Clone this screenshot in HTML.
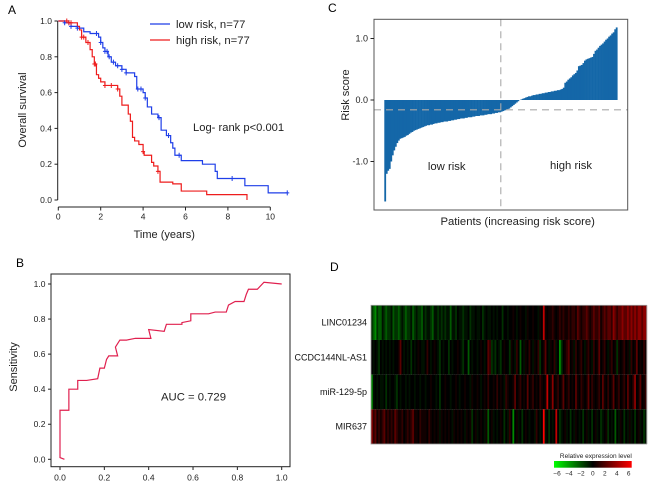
<!DOCTYPE html>
<html><head><meta charset="utf-8"><style>
html,body{margin:0;padding:0;background:#fff;width:650px;height:487px;overflow:hidden}
svg{display:block;font-family:"Liberation Sans",Arial,sans-serif}
</style></head><body>
<svg id="fig" width="650" height="487" viewBox="0 0 650 487" xmlns="http://www.w3.org/2000/svg">
<defs><linearGradient id="cb" x1="0" x2="1" y1="0" y2="0"><stop offset="0" stop-color="#00ff00"/><stop offset="0.5" stop-color="#000000"/><stop offset="1" stop-color="#ff0000"/></linearGradient></defs>
</svg>
<script>
// ---------- Panel A data (Kaplan-Meier) ----------
const kmTicksX = [0,2,4,6,8,10];
const kmTicksY = [0,0.2,0.4,0.6,0.8,1.0];
const lowTimes = [0,0.3,0.6,0.9,1.2,1.5,1.9,2.0,2.1,2.2,2.35,2.5,2.7,3.0,3.2,3.6,3.7,4.0,4.1,4.2,4.4,4.7,4.85,5.1,5.3,5.4,5.5,5.8,6.8,7.4,7.5,8.8,9.9,10.8];
const lowSurv  = [1,0.99,0.97,0.96,0.94,0.93,0.91,0.88,0.85,0.83,0.80,0.77,0.75,0.73,0.71,0.69,0.62,0.60,0.57,0.52,0.48,0.46,0.39,0.36,0.32,0.29,0.25,0.22,0.20,0.16,0.12,0.08,0.04,0.04];
const highTimes = [0,0.5,0.9,1.0,1.1,1.3,1.5,1.6,1.7,1.8,1.9,2.0,2.2,2.8,2.9,3.0,3.3,3.4,3.5,3.6,3.8,4.0,4.05,4.4,4.5,4.7,4.8,5.4,5.8,7.0,8.9];
const highSurv  = [1,0.99,0.97,0.95,0.91,0.88,0.84,0.80,0.76,0.70,0.68,0.66,0.64,0.62,0.58,0.53,0.48,0.44,0.35,0.33,0.31,0.27,0.25,0.21,0.19,0.16,0.10,0.09,0.05,0.03,0.0];
const lowCensor = [0.3,0.5,0.6,0.9,1.8,2.0,2.2,2.3,2.4,2.6,2.8,3.0,3.2,3.75,3.9,4.1,4.75,5.2,5.7,8.2,10.8];
const highCensor = [0.4,0.5,0.6,1.1,1.2,1.4,1.7,1.75,2.2,2.5,2.8,4.0,4.7];
// ---------- Panel B data (ROC) ----------
const rocTicks = [0,0.2,0.4,0.6,0.8,1.0];
const rocFPR = [0.02,0,0,0.04,0.04,0.08,0.08,0.12,0.17,0.18,0.2,0.21,0.22,0.26,0.25,0.27,0.3,0.34,0.41,0.40,0.47,0.48,0.55,0.55,0.59,0.59,0.67,0.7,0.75,0.76,0.79,0.83,0.84,0.85,0.89,0.92,1.0];
const rocTPR = [0,0.01,0.28,0.28,0.40,0.40,0.45,0.45,0.46,0.52,0.52,0.57,0.59,0.59,0.64,0.68,0.68,0.69,0.69,0.74,0.73,0.77,0.77,0.78,0.79,0.83,0.83,0.84,0.84,0.88,0.90,0.90,0.94,0.97,0.97,1.01,1.0];
// ---------- Panel C data (risk scores) ----------
const riskTicks = [-1.0,0.0,1.0];
const riskCutoff = -0.16;
const riskScores = [-1.65,-1.20,-1.15,-1.12,-1.00,-0.90,-0.82,-0.76,-0.70,-0.66,
-0.63,-0.62,-0.61,-0.60,-0.58,-0.57,-0.55,-0.53,-0.52,-0.50,
-0.49,-0.48,-0.47,-0.46,-0.45,-0.44,-0.43,-0.42,-0.41,-0.41,
-0.40,-0.40,-0.39,-0.38,-0.38,-0.37,-0.37,-0.36,-0.36,-0.35,
-0.35,-0.35,-0.34,-0.34,-0.33,-0.33,-0.32,-0.32,-0.31,-0.31,
-0.30,-0.30,-0.30,-0.29,-0.29,-0.28,-0.28,-0.28,-0.27,-0.27,
-0.26,-0.26,-0.26,-0.25,-0.25,-0.25,-0.24,-0.24,-0.23,-0.23,
-0.23,-0.22,-0.22,-0.21,-0.21,-0.20,-0.20,-0.19,-0.18,-0.17,
-0.16,-0.15,-0.14,-0.12,-0.10,-0.08,-0.06,-0.04,-0.02,0.00,
0.01,0.02,0.03,0.04,0.05,0.06,0.06,0.07,0.08,0.08,
0.09,0.09,0.10,0.10,0.11,0.11,0.12,0.12,0.13,0.13,
0.14,0.14,0.15,0.15,0.16,0.16,0.17,0.18,0.20,0.28,
0.30,0.33,0.35,0.37,0.40,0.42,0.44,0.48,0.55,0.56,
0.57,0.60,0.64,0.66,0.67,0.68,0.69,0.70,0.75,0.80,
0.82,0.85,0.88,0.90,0.92,0.95,0.98,1.00,1.03,1.05,
1.08,1.10,1.15,1.18];
// ---------- Panel D data (heatmap) ----------
const genes = ["LINC01234","CCDC144NL-AS1","miR-129-5p","MIR637"];
const colorTicks = [-6,-4,-2,0,2,4,6];
const rowLINC = [-2,-3,-4,-2,-3,-3,-1,-2,-3,-2,-2,-1,-3,-2,-2,-3,-2,-1,-2,-3,-2,-2,-1,-3,-2,-1,-2,-2,-3,-1,-2,-1,-1,-2,-3,-1,-1,-2,-1,-2,-1,-2,-1,-1,-3,-1,-1,-2,0,-1,-1,-2,-1,-1,0,-2,-1,-1,0,-1,-1,0,-2,-1,0,-1,-1,0,-1,0,-1,0,0,-2,0,0,-1,0,0,1,0,-1,0,1,0,0,-1,1,0,0,1,0,0,-1,1,0,5,1,0,1,1,2,1,0,1,2,1,2,1,1,2,1,2,2,1,3,2,1,2,2,3,2,1,2,3,2,2,3,1,2,3,2,3,3,2,4,3,2,3,3,4,3,3,4,3,4,3,4,3,4,4,3,4,4];
const rowCCDC = [0,-1,0,-1,-2,0,-1,0,-1,0,-1,0,-1,0,0,1,3,0,-1,0,-1,0,-2,0,-1,0,1,0,-1,-1,0,2,0,-1,0,1,0,-1,-2,0,-1,0,0,-2,0,-1,0,0,1,0,-1,-2,0,0,-3,0,-1,0,0,-1,0,1,0,-1,0,3,2,-2,-1,-2,0,-1,-2,0,1,0,0,-2,1,0,-1,2,0,-3,0,-1,1,0,2,0,-1,1,0,2,-2,0,1,3,0,-1,1,0,2,-1,0,-4,-2,0,1,2,3,0,1,-1,2,0,1,2,0,-1,1,2,0,-1,2,0,1,3,0,1,2,0,-1,1,2,0,1,-2,1,0,1,2,0,1,-1,2,0,1,3,0,1,0,2,1];
const rowMIR129 = [-4,-1,0,-1,0,-1,-1,0,-2,0,-1,0,0,-1,-2,0,-1,0,0,-1,0,-1,0,0,-1,0,0,-1,0,0,-1,0,0,1,0,0,-1,0,-2,0,0,1,0,0,-1,0,0,1,0,-1,0,0,1,0,0,-1,1,0,0,1,0,-1,0,1,0,2,0,0,1,0,2,0,1,0,-1,2,1,0,0,1,3,0,1,2,0,1,0,3,0,1,2,0,1,0,2,1,0,1,5,0,1,4,0,1,2,0,1,3,0,1,2,0,1,0,3,1,0,2,1,0,1,3,0,2,1,0,1,2,0,3,1,0,2,0,1,3,0,1,2,0,1,2,0,3,1,0,2,4,0,1,3,0,1,2];
const rowMIR637 = [4,2,3,1,2,1,2,3,1,2,1,2,1,3,2,1,1,2,0,1,2,1,2,3,1,1,0,2,1,1,1,0,2,1,0,1,0,1,-1,1,0,1,0,1,0,-1,1,0,1,0,1,0,-1,1,0,1,-2,0,1,-1,0,1,0,-1,1,-3,0,1,-1,0,-1,0,1,0,-2,0,-1,2,0,-4,0,1,-1,0,-2,0,1,0,-1,0,0,-1,2,0,-1,0,6,-1,0,-2,0,-1,0,5,0,-2,-1,0,1,-1,0,-2,0,-1,1,0,-1,0,-2,0,1,-1,0,-2,0,1,-1,0,-2,-1,0,1,-2,0,-1,0,-3,0,-1,1,0,-2,0,-1,1,-1,0,-2,0,1,-1,0,-2,-1];

const NS="http://www.w3.org/2000/svg";
const svg=document.getElementById('fig');
function el(tag,attrs,parent,text){const e=document.createElementNS(NS,tag);for(const k in attrs)e.setAttribute(k,attrs[k]);if(text!==undefined)e.textContent=text;(parent||svg).appendChild(e);return e;}
function fmt(v){return v.toFixed(1);}

// ===== Panel A =====
try{
const gA=el('g',{});


const ax=t=>58.3+t*21.2, ay=s=>200-s*179;
let t=el('text',{x:8,y:14,'font-size':12},gA,'A');

let l=el('line',{x1:57.7,y1:ay(1),x2:57.7,y2:ay(0),stroke:'#222','stroke-width':1},gA);

l=el('line',{x1:ax(0),y1:207,x2:ax(10),y2:207,stroke:'#222','stroke-width':1},gA);

kmTicksY.forEach(v=>{el('line',{x1:54.5,x2:57.7,y1:ay(v),y2:ay(v),stroke:'#222'},gA);
 const tx=el('text',{x:52,y:ay(v)+3,'font-size':8.5,'text-anchor':'end',fill:'#222'},gA,fmt(v));
 });
kmTicksX.forEach(v=>{el('line',{x1:ax(v),x2:ax(v),y1:207,y2:210.5,stroke:'#222'},gA);
 const tx=el('text',{x:ax(v),y:219.5,'font-size':8.5,'text-anchor':'middle',fill:'#222'},gA,String(v));
 });
t=el('text',{x:ax(5),y:238,'font-size':11,'text-anchor':'middle',fill:'#222'},gA,'Time (years)');

t=el('text',{x:0,y:0,'font-size':11,'text-anchor':'middle',fill:'#222',transform:'translate(26,110) rotate(-90)'},gA,'Overall survival');

function stepPath(ts,ss){let d='M'+ax(ts[0])+','+ay(ss[0]);for(let i=1;i<ts.length;i++){d+=' H'+ax(ts[i])+' V'+ay(ss[i]);}return d;}
function survAt(ts,ss,x){let s=ss[0];for(let i=0;i<ts.length;i++){if(ts[i]<=x)s=ss[i];}return s;}
let p=el('path',{d:stepPath(lowTimes,lowSurv),fill:'none',stroke:'#1f3fe8','stroke-width':1.2},gA);

p=el('path',{d:stepPath(highTimes,highSurv),fill:'none',stroke:'#ee1c1c','stroke-width':1.2},gA);

function censor(times,T,S,col,name){times.forEach(c=>{const x=ax(c),y=ay(survAt(T,S,c));
 const g=el('path',{d:`M${x-2},${y} H${x+2} M${x},${y-2.5} V${y+2.5}`,stroke:col,'stroke-width':1},gA);
 });}
censor(lowCensor,lowTimes,lowSurv,'#1f3fe8','low-risk-censor-mark');
censor(highCensor,highTimes,highSurv,'#ee1c1c','high-risk-censor-mark');
l=el('line',{x1:150,x2:170,y1:24,y2:24,stroke:'#1f3fe8','stroke-width':1.2},gA);

t=el('text',{x:176,y:28,'font-size':11.3,fill:'#222'},gA,'low risk, n=77');

l=el('line',{x1:150,x2:170,y1:40,y2:40,stroke:'#ee1c1c','stroke-width':1.2},gA);

t=el('text',{x:176,y:44,'font-size':11.3,fill:'#222'},gA,'high risk, n=77');

t=el('text',{x:193,y:131,'font-size':11.2,fill:'#222'},gA,'Log- rank p<0.001');

}catch(e){}

// ===== Panel B =====
try{
const gB=el('g',{});


const bx=v=>60+v*221.7, by=v=>459.3-v*175.3;
let t=el('text',{x:16,y:267,'font-size':12},gB,'B');

let r=el('rect',{x:51,y:274,width:239,height:192.7,fill:'none',stroke:'#222','stroke-width':1},gB);

rocTicks.forEach(v=>{el('line',{x1:48,x2:51,y1:by(v),y2:by(v),stroke:'#222'},gB);
 let tx=el('text',{x:45.5,y:by(v)+3,'font-size':8.5,'text-anchor':'end',fill:'#222'},gB,fmt(v));
 
 el('line',{x1:bx(v),x2:bx(v),y1:466.7,y2:470,stroke:'#222'},gB);
 tx=el('text',{x:bx(v),y:480.5,'font-size':8.5,'text-anchor':'middle',fill:'#222'},gB,fmt(v));
 });
t=el('text',{x:0,y:0,'font-size':11,'text-anchor':'middle',fill:'#222',transform:'translate(17,367) rotate(-90)'},gB,'Sensitivity');

let p=el('path',{d:rocFPR.map((f,i)=>(i?'L':'M')+bx(f)+','+by(rocTPR[i])).join(' '),fill:'none',stroke:'#e0204f','stroke-width':1.2},gB);

t=el('text',{x:161,y:400.5,'font-size':11.3,fill:'#222','xml:space':'preserve'},gB,'AUC =  0.729');

}catch(e){}

// ===== Panel C =====
try{
const gC=el('g',{});


const cy=v=>100-v*61.5;
const cx0=384.3, cw=(617.3-384.3)/riskScores.length;
let t=el('text',{x:328,y:12,'font-size':12},gC,'C');

riskScores.forEach((v,i)=>{const y1=Math.min(cy(0),cy(v)),h=Math.abs(cy(v)-cy(0));
 const b=el('rect',{x:cx0+i*cw,y:y1,width:cw+0.3,height:h,fill:'#1467a8'},gC);
 });
let l=el('line',{x1:374,x2:627.7,y1:cy(riskCutoff),y2:cy(riskCutoff),stroke:'#aaa','stroke-width':1.1,'stroke-dasharray':'7,5'},gC);

const midX=cx0+(riskScores.length/2)*cw;
l=el('line',{x1:midX,x2:midX,y1:19.3,y2:210,stroke:'#aaa','stroke-width':1.1,'stroke-dasharray':'7,5'},gC);

let r=el('rect',{x:374,y:19.3,width:253.7,height:190.7,fill:'none',stroke:'#555','stroke-width':1},gC);

riskTicks.forEach(v=>{el('line',{x1:370.5,x2:374,y1:cy(v),y2:cy(v),stroke:'#222'},gC);
 const tx=el('text',{x:368,y:cy(v)+3,'font-size':9,'text-anchor':'end',fill:'#222'},gC,fmt(v));
 });
t=el('text',{x:0,y:0,'font-size':11,'text-anchor':'middle',fill:'#222',transform:'translate(349,95) rotate(-90)'},gC,'Risk score');

t=el('text',{x:517.7,y:225,'font-size':11.3,'text-anchor':'middle',fill:'#222'},gC,'Patients (increasing risk score)');

t=el('text',{x:446.7,y:170,'font-size':11.3,'text-anchor':'middle',fill:'#222'},gC,'low risk');

t=el('text',{x:571,y:169,'font-size':11.3,'text-anchor':'middle',fill:'#222'},gC,'high risk');

}catch(e){}

// ===== Panel D =====
try{
const gD=el('g',{});


let t=el('text',{x:330,y:271,'font-size':12},gD,'D');

const hx0=371,hx1=646.7,hy0=305.3,hy1=444;
const rows=[rowLINC,rowCCDC,rowMIR129,rowMIR637];
const rh=(hy1-hy0)/rows.length;
function col(v){const k=Math.pow(Math.min(1,Math.abs(v)/6),1.5);const c=Math.round(255*k);return v>=0?`rgb(${c},0,0)`:`rgb(0,${c},0)`;}
rows.forEach((row,ri)=>{const w=(hx1-hx0)/row.length;
 row.forEach((v,ci)=>{const c=el('rect',{x:hx0+ci*w,y:hy0+ri*rh,width:w+0.4,height:rh,fill:col(v)},gD);
  });
 const tx=el('text',{x:367,y:hy0+ri*rh+rh/2+3,'font-size':9,'text-anchor':'end',fill:'#111'},gD,genes[ri]);
 });
let r=el('rect',{x:hx0,y:hy0,width:hx1-hx0,height:hy1-hy0,fill:'none',stroke:'#999','stroke-width':0.8},gD);

const cbx0=554,cbx1=631.7;
r=el('rect',{x:cbx0,y:461,width:cbx1-cbx0,height:6.7,fill:'url(#cb)'},gD);

t=el('text',{x:(cbx0+cbx1)/2+3,y:458,'font-size':6.5,'text-anchor':'middle',fill:'#222'},gD,'Relative expression level');

colorTicks.forEach(v=>{const x=cbx0+3+(v+6)/12*(cbx1-cbx0-6);
 const tx=el('text',{x:x,y:475.5,'font-size':6.5,'text-anchor':'middle',fill:'#222'},gD,v<0?'\u2212'+Math.abs(v):String(v));
 });
}catch(e){}
</script>
</body></html>
